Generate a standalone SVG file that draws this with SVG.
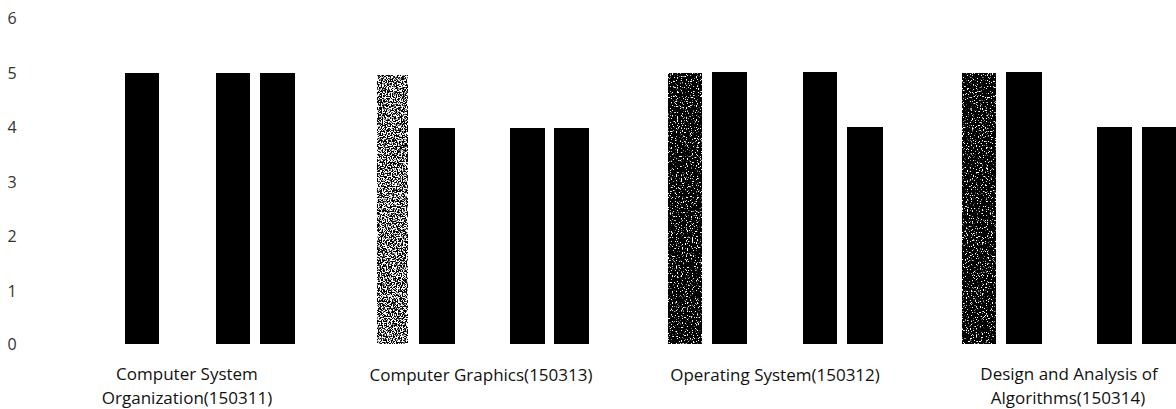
<svg xmlns="http://www.w3.org/2000/svg" width="1176" height="409" viewBox="0 0 1176 409">
<style>
.bar{fill:#000}
.axis{font-family:"Open Sans","Liberation Sans",sans-serif;font-size:16px;fill:#333;text-anchor:middle}
.lbl{font-family:"Open Sans","Liberation Sans",sans-serif;font-size:17px;fill:#111;text-anchor:middle}
</style>
<defs>
<filter id="spkLight" x="0" y="0" width="1" height="1" color-interpolation-filters="sRGB">
<feTurbulence type="fractalNoise" baseFrequency="0.8" numOctaves="2" seed="4" result="n"/>
<feColorMatrix in="n" type="matrix" values="0 0 0 0 0  0 0 0 0 0  0 0 0 0 0  12 0 0 0 -5.4" result="a"/>
<feComposite in="a" in2="SourceGraphic" operator="in"/>
</filter>
<filter id="spkDark" x="0" y="0" width="1" height="1" color-interpolation-filters="sRGB">
<feTurbulence type="fractalNoise" baseFrequency="0.8" numOctaves="2" seed="9" result="n"/>
<feColorMatrix in="n" type="matrix" values="0 0 0 0 0  0 0 0 0 0  0 0 0 0 0  12 0 0 0 -3.8" result="a"/>
<feComposite in="a" in2="SourceGraphic" operator="in"/>
</filter>
</defs>
<rect width="1176" height="409" fill="#fff"/>
<g id="axis">
<text class="axis" x="12" y="24">6</text>
<text class="axis" x="12" y="79">5</text>
<text class="axis" x="12" y="133">4</text>
<text class="axis" x="12" y="188">3</text>
<text class="axis" x="12" y="242">2</text>
<text class="axis" x="12" y="297">1</text>
<text class="axis" x="12" y="350">0</text>
</g>
<g id="group-150311">
<rect class="bar" x="125" y="73" width="34" height="271"/>
<rect class="bar" x="216" y="73" width="34" height="271"/>
<rect class="bar" x="260" y="73" width="35" height="271"/>
<text class="lbl" x="187" y="380">Computer System</text>
<text class="lbl" x="187" y="404">Organization(150311)</text>
</g>
<g id="group-150313">
<rect x="377" y="75" width="31" height="269" fill="#000" filter="url(#spkLight)"/>
<rect class="bar" x="419" y="128" width="36" height="216"/>
<rect class="bar" x="510" y="128" width="35" height="216"/>
<rect class="bar" x="554" y="128" width="35" height="216"/>
<text class="lbl" x="481" y="381">Computer Graphics(150313)</text>
</g>
<g id="group-150312">
<rect x="668" y="73" width="34" height="271" fill="#000" filter="url(#spkDark)"/>
<rect class="bar" x="712" y="72" width="35" height="272"/>
<rect class="bar" x="803" y="72" width="34" height="272"/>
<rect class="bar" x="847" y="127" width="36" height="217"/>
<text class="lbl" x="775" y="381">Operating System(150312)</text>
</g>
<g id="group-150314">
<rect x="962" y="73" width="34" height="271" fill="#000" filter="url(#spkDark)"/>
<rect class="bar" x="1006" y="72" width="36" height="272"/>
<rect class="bar" x="1097" y="127" width="35" height="217"/>
<rect class="bar" x="1142" y="127" width="34" height="217"/>
<text class="lbl" x="1069" y="380">Design and Analysis of</text>
<text class="lbl" x="1068" y="404">Algorithms(150314)</text>
</g>
</svg>
